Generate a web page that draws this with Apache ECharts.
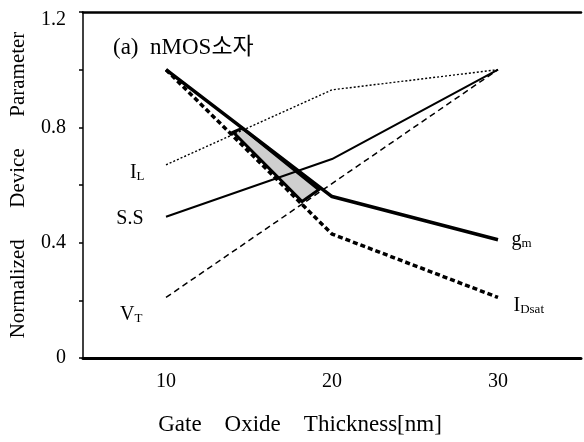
<!DOCTYPE html>
<html>
<head>
<meta charset="utf-8">
<script src="https://cdn.jsdelivr.net/npm/echarts@6/dist/echarts.min.js"></script>
<style>
html, body { margin: 0; padding: 0; background: #fff; }
#main { width: 584px; height: 442px; }
</style>
</head>
<body>
<div id="main"></div>
<script>
// gate oxide thickness [nm]
var thickness = [10, 20, 30];
// normalized parameters
var IL = [0.67, 0.93, 1.0];
var SS = [0.49, 0.69, 1.0];
var VT = [0.21, 0.605, 1.0];
var gm = [1.0, 0.56, 0.41];
var IDsat = [1.0, 0.43, 0.21];
// shaded window between gm and IDsat
var bandCorners = [[14.05, 0.783], [14.6, 0.797], [19.2, 0.584], [18.2, 0.543]];
var yLabels = [0, 0.4, 0.8, 1.2];
var xLabels = [10, 20, 30];

var serif = "'Liberation Serif', 'Noto Sans CJK KR', serif";

function pairs(ys) {
    return thickness.map(function (x, i) { return [x, ys[i]]; });
}

var rich = {
    m: { fontFamily: serif, fontSize: 20, color: '#000' },
    s: { fontFamily: serif, fontSize: 13, color: '#000', padding: [8, 0, 0, 0] }
};

function withLabel(ys, idx, text, pos, offset) {
    var d = pairs(ys);
    d[idx] = {
        value: d[idx],
        label: { show: true, position: pos, offset: offset, formatter: text, rich: rich }
    };
    return d;
}

function lineSeries(name, data, width, type) {
    return {
        name: name,
        type: 'line',
        data: data,
        symbol: 'circle',
        symbolSize: 1,
        showSymbol: true,
        itemStyle: { color: 'rgba(0,0,0,0)', borderWidth: 0 },
        silent: true,
        z: 3,
        lineStyle: { color: '#000', width: width, type: type },
        label: { show: false }
    };
}

var chart = echarts.init(document.getElementById('main'));
chart.setOption({
    animation: false,
    title: {
        text: '(a)  nMOS소자',
        left: 108,
        top: 31,
        textStyle: { fontFamily: serif, fontSize: 23, fontWeight: 'normal', color: '#000' }
    },
    grid: { left: 80, right: 0, top: 12, bottom: 84 },
    xAxis: [{
        type: 'value',
        min: 5,
        max: 35,
        interval: 5,
        name: 'Gate    Oxide    Thickness[nm]',
        nameLocation: 'middle',
        nameGap: 55,
        nameTextStyle: { fontFamily: serif, fontSize: 23, color: '#000', padding: [0, 64, 0, 0] },
        axisLine: { lineStyle: { color: '#000', width: 3 } },
        axisTick: { show: false },
        splitLine: { show: false },
        axisLabel: {
            margin: 14,
            fontFamily: serif,
            fontSize: 20,
            color: '#000',
            formatter: function (v) { return xLabels.indexOf(v) >= 0 ? String(v) : ''; }
        }
    }, {
        type: 'value',
        position: 'top',
        min: 5,
        max: 35,
        axisLine: { onZero: false, lineStyle: { color: '#000', width: 2.5 } },
        axisTick: { show: false },
        axisLabel: { show: false },
        splitLine: { show: false }
    }],
    yAxis: {
        type: 'value',
        min: 0,
        max: 1.2,
        interval: 0.2,
        name: 'Normalized      Device      Parameter',
        nameLocation: 'middle',
        nameGap: 54,
        nameTextStyle: { fontFamily: serif, fontSize: 21, color: '#000' },
        axisLine: { show: true, lineStyle: { color: '#000', width: 1.5 } },
        axisTick: { show: true, inside: false, length: 4, lineStyle: { color: '#000', width: 1.5 } },
        splitLine: { show: false },
        axisLabel: {
            margin: 17,
            fontFamily: serif,
            fontSize: 20,
            color: '#000',
            formatter: function (v) {
                var r = Math.round(v * 10) / 10;
                if (r === 1.2) return '{top|1.2}';
                return yLabels.indexOf(r) >= 0 ? String(r) : '';
            },
            rich: {
                top: { fontFamily: serif, fontSize: 20, color: '#000', padding: [16, 0, 0, 0] }
            }
        }
    },
    series: [
        {
            type: 'custom',
            silent: true,
            z: 1,
            data: bandCorners,
            renderItem: function (params, api) {
                if (params.dataIndex !== 0) return null;
                var pts = bandCorners.map(function (p) { return api.coord(p); });
                return {
                    type: 'polygon',
                    shape: { points: pts },
                    style: { fill: '#cfcfcf', stroke: '#000', lineWidth: 3 }
                };
            }
        },
        lineSeries('IL', withLabel(IL, 0, '{m|I}{s|L}', 'left', [-16, 8]), 1.4, [2, 2]),
        lineSeries('SS', withLabel(SS, 0, '{m|S.S}', 'left', [-17, 2]), 2, 'solid'),
        lineSeries('VT', withLabel(VT, 0, '{m|V}{s|T}', 'left', [-18, 17]), 1.5, [6, 4]),
        lineSeries('gm', withLabel(gm, 2, '{m|g}{s|m}', 'right', [8, 0]), 3.5, 'solid'),
        lineSeries('IDsat', withLabel(IDsat, 2, '{m|I}{s|Dsat}', 'right', [10, 8]), 3.5, [5, 3])
    ]
});
</script>
</body>
</html>
